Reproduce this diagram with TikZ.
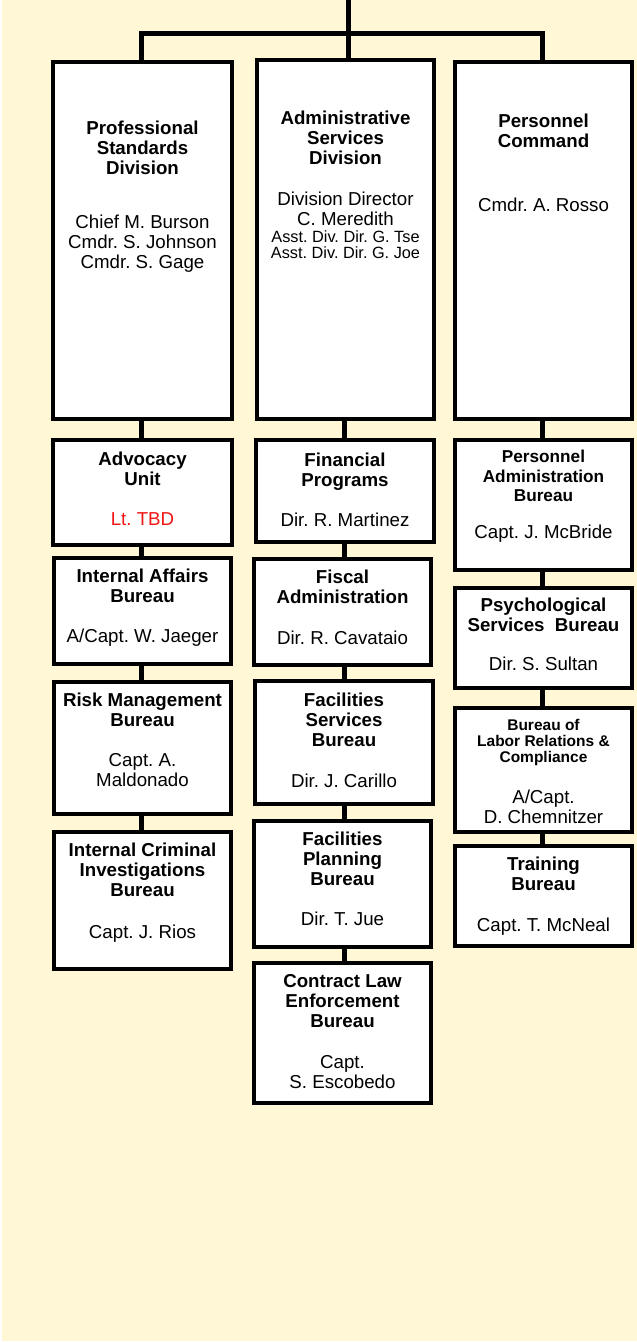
\documentclass[tikz,border=0pt]{standalone}
\usepackage{fontspec}
\setmainfont{Liberation Sans}
\frenchspacing
\definecolor{cream}{RGB}{255,247,214}
\definecolor{tbdred}{RGB}{240,20,20}
\tikzset{
  bx/.style={draw=black, line width=4pt, fill=white, inner sep=0pt, minimum width=177pt},
  conn/.style={line width=5pt, draw=black, line join=miter},
  ttl/.style={anchor=base, align=center, inner sep=0pt, font=\frenchspacing\bfseries\fontsize{18.7}{20.3}\selectfont},
  ttlsm/.style={anchor=base, align=center, inner sep=0pt, font=\frenchspacing\bfseries\fontsize{15.5}{16.2}\selectfont},
  ttlmd/.style={anchor=base, align=center, inner sep=0pt, font=\frenchspacing\bfseries\fontsize{17.2}{19.2}\selectfont},
  nm/.style={anchor=base, align=center, inner sep=0pt, font=\frenchspacing\fontsize{18.7}{20.3}\selectfont},
  nmsm/.style={anchor=base, align=center, inner sep=0pt, font=\frenchspacing\fontsize{16.3}{16.3}\selectfont},
}
\begin{document}
\begin{tikzpicture}[x=1pt,y=-1pt]
\useasboundingbox (0,0) rectangle (637,1342);
\fill[white] (0,0) rectangle (637,1342);
\fill[cream] (2,0) rectangle (637,1341);

% column reference coordinates
\coordinate (top) at (348,0);
\coordinate (hub) at (348,33);
\coordinate (cL) at (141,0);
\coordinate (cM) at (344,0);
\coordinate (cR) at (542,0);

% box placeholders (named), drawn later
\path
  (142.5,240.5) node[minimum width=179pt, minimum height=357pt] (psd) {}
  (345.5,239.5) node[minimum height=359pt] (asd) {}
  (543.5,240.5) node[minimum width=177pt, minimum height=357pt] (pc) {}
  (142.5,492.5) node[minimum width=179pt, minimum height=105pt] (adv) {}
  (142.5,611) node[minimum width=177pt, minimum height=106pt] (iab) {}
  (142.5,748) node[minimum width=177pt, minimum height=132pt] (rmb) {}
  (142.5,900.5) node[minimum width=177pt, minimum height=137pt] (icib) {}
  (345,491) node[minimum width=178pt, minimum height=102pt] (fp) {}
  (342.5,612) node[minimum width=177pt, minimum height=106pt] (fa) {}
  (344,742.5) node[minimum width=178pt, minimum height=123pt] (fsb) {}
  (342.5,884) node[minimum width=177pt, minimum height=126pt] (fpb) {}
  (342.5,1033) node[minimum width=177pt, minimum height=140pt] (cleb) {}
  (543.5,505) node[minimum width=177pt, minimum height=130pt] (pab) {}
  (543.5,638) node[minimum width=177pt, minimum height=100pt] (psb) {}
  (543.5,770) node[minimum width=177pt, minimum height=124pt] (blrc) {}
  (543.5,896) node[minimum width=177pt, minimum height=100pt] (tb) {};

% connectors
\draw[conn] (top) -- (hub);
\draw[conn] (psd.north -| cL) |- (hub) -| (pc.north -| cR);
\draw[conn] (hub) -- (asd.north -| hub);
\draw[conn] (psd.south -| cL) -- (icib.north -| cL);
\draw[conn] (asd.south -| cM) -- (cleb.north -| cM);
\draw[conn] (pc.south -| cR) -- (tb.north -| cR);

% visible boxes
\node[bx, minimum width=179pt, minimum height=357pt] at (psd) {};
\node[bx, minimum height=359pt] at (asd) {};
\node[bx, minimum height=357pt] at (pc) {};
\node[bx, minimum width=179pt, minimum height=105pt] at (adv) {};
\node[bx, minimum height=106pt] at (iab) {};
\node[bx, minimum height=132pt] at (rmb) {};
\node[bx, minimum height=137pt] at (icib) {};
\node[bx, minimum width=178pt, minimum height=102pt] at (fp) {};
\node[bx, minimum height=106pt] at (fa) {};
\node[bx, minimum width=178pt, minimum height=123pt] at (fsb) {};
\node[bx, minimum height=126pt] at (fpb) {};
\node[bx, minimum height=140pt] at (cleb) {};
\node[bx, minimum height=130pt] at (pab) {};
\node[bx, minimum height=100pt] at (psb) {};
\node[bx, minimum height=124pt] at (blrc) {};
\node[bx, minimum height=100pt] at (tb) {};

% texts (anchor base = baseline of last line)
\node[ttl] (psd-t) at (142.5,174.7) {Professional\\Standards\\Division};
\node[nm] (psd-n) at (142.5,268.7) {Chief M. Burson\\Cmdr. S. Johnson\\Cmdr. S. Gage};

\node[ttl] (asd-t) at (345.5,164.7) {Administrative\\Services\\Division};
\node[nm] (asd-n) at (345.5,225.7) {Division Director\\C. Meredith};
\node[nmsm] (asd-a) at (345.5,258.8) {Asst. Div. Dir. G. Tse\\Asst. Div. Dir. G. Joe};

\node[ttl] (pc-t) at (543.5,147.7) {Personnel\\Command};
\node[nm] (pc-n) at (543.5,211.7) {Cmdr. A. Rosso};

\node[ttl] (adv-t) at (142.5,485.7) {Advocacy\\Unit};
\node[nm, text=tbdred] (adv-n) at (142.5,525.7) {Lt. TBD};

\node[ttl] (iab-t) at (142.5,602.7) {Internal Affairs\\Bureau};
\node[nm] (iab-n) at (142.5,642.7) {A/Capt. W. Jaeger};

\node[ttl] (rmb-t) at (142.5,726.7) {Risk Management\\Bureau};
\node[nm] (rmb-n) at (142.5,786.7) {Capt. A.\\Maldonado};

\node[ttl] (icib-t) at (142.5,896.7) {Internal Criminal\\Investigations\\Bureau};
\node[nm] (icib-n) at (142.5,938.7) {Capt. J. Rios};

\node[ttl] (fp-t) at (345,486.7) {Financial\\Programs};
\node[nm] (fp-n) at (345,526.7) {Dir. R. Martinez};

\node[ttl] (fa-t) at (342.5,603.7) {Fiscal\\Administration};
\node[nm] (fa-n) at (342.5,644.7) {Dir. R. Cavataio};

\node[ttl] (fsb-t) at (344,746.7) {Facilities\\Services\\Bureau};
\node[nm] (fsb-n) at (344,787.7) {Dir. J. Carillo};

\node[ttl] (fpb-t) at (342.5,885.7) {Facilities\\Planning\\Bureau};
\node[nm] (fpb-n) at (342.5,925.7) {Dir. T. Jue};

\node[ttl] (cleb-t) at (342.5,1027.7) {Contract Law\\Enforcement\\Bureau};
\node[nm] (cleb-n) at (342.5,1088.7) {Capt.\\S. Escobedo};

\node[ttlmd] (pab-t) at (543.5,501.2) {Personnel\\Administration\\Bureau};
\node[nm] (pab-n) at (543.5,538.7) {Capt. J. McBride};

\node[ttl] (psb-t) at (543.5,631.7) {Psychological\\Services~ Bureau};
\node[nm] (psb-n) at (543.5,670.7) {Dir. S. Sultan};

\node[ttlsm] (blrc-t) at (543.5,762.5) {Bureau of\\Labor Relations \&\\Compliance};
\node[nm] (blrc-n) at (543.5,823.7) {A/Capt.\\D. Chemnitzer};

\node[ttl] (tb-t) at (543.5,890.7) {Training\\Bureau};
\node[nm] (tb-n) at (543.5,931.7) {Capt. T. McNeal};
\end{tikzpicture}
\end{document}
